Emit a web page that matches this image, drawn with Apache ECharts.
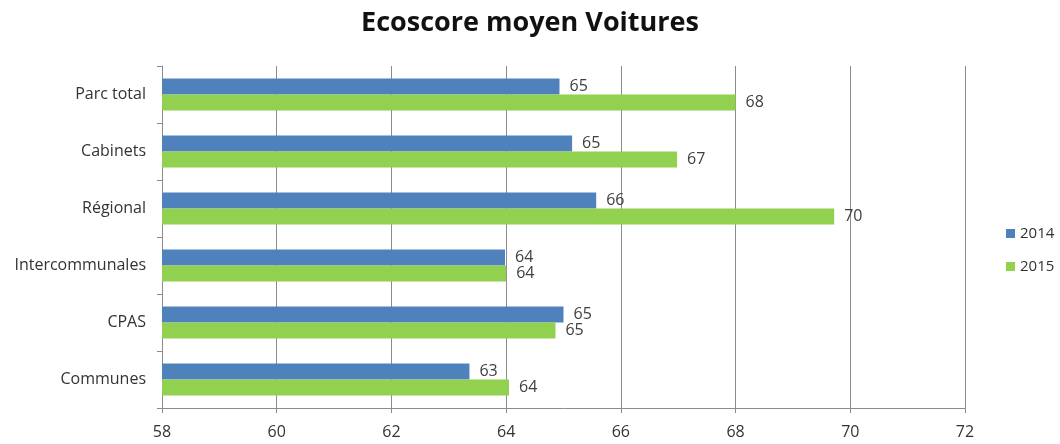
<!DOCTYPE html>
<html>
<head>
<meta charset="utf-8">
<script src="https://cdn.jsdelivr.net/npm/echarts@6/dist/echarts.min.js"></script>
<style>
  html, body { margin: 0; padding: 0; background: #fff; }
  #chart { width: 1060px; height: 444px; }
</style>
</head>
<body>
<div id="chart"></div>
<script>
// categories top to bottom
const categories = ['Parc total', 'Cabinets', 'Régional', 'Intercommunales', 'CPAS', 'Communes']
const seriesNames = ['2014', '2015']
const values2014 = [64.93, 65.15, 65.57, 63.98, 65.0, 63.36]
const values2015 = [68.0, 66.98, 69.72, 64.0, 64.86, 64.05]
const xTicks = { min: 58, max: 72, interval: 2 }

const font = '"Open Sans", "DejaVu Sans", sans-serif'
const colors = ['#4F81BD', '#92D050']

const chart = echarts.init(document.getElementById('chart'))

const labelCfg = {
  show: true, position: 'right', distance: 10,
  color: '#404040', fontSize: 16, fontFamily: font,
  formatter: p => Math.round(p.value)
}

chart.setOption({
  animation: false,
  title: {
    text: 'Ecoscore moyen Voitures', left: 'center', top: 5,
    textStyle: { fontFamily: font, fontWeight: 'bold', fontSize: 27, color: '#111' }
  },
  legend: {
    orient: 'vertical', left: 1001, top: 221, itemGap: 18,
    itemWidth: 9, itemHeight: 9, icon: 'rect',
    textStyle: { fontFamily: font, fontSize: 15, color: '#333' },
    data: seriesNames
  },
  grid: { left: 162, right: 95, top: 66, bottom: 36 },
  xAxis: {
    type: 'value', min: xTicks.min, max: xTicks.max, interval: xTicks.interval,
    axisLine: { show: true, lineStyle: { color: '#8c8c8c' } },
    axisTick: { show: true, length: 5, lineStyle: { color: '#8c8c8c' } },
    axisLabel: { color: '#333', fontSize: 16, fontFamily: font, margin: 16 },
    splitLine: { show: true, lineStyle: { color: '#8c8c8c', width: 1 } }
  },
  yAxis: {
    type: 'category', data: categories, inverse: true,
    axisLine: { show: true, lineStyle: { color: '#8c8c8c' } },
    axisTick: { show: true, length: 5, lineStyle: { color: '#8c8c8c' } },
    axisLabel: { color: '#333', fontSize: 16, fontFamily: font, margin: 16 }
  },
  series: [
    {
      name: seriesNames[0], type: 'bar', data: values2014, barWidth: 16, barGap: '0%',
      itemStyle: { color: colors[0] }, label: labelCfg
    },
    {
      name: seriesNames[1], type: 'bar', data: values2015, barWidth: 16, barGap: '0%',
      itemStyle: { color: colors[1] }, label: labelCfg
    }
  ]
})
</script>
</body>
</html>
